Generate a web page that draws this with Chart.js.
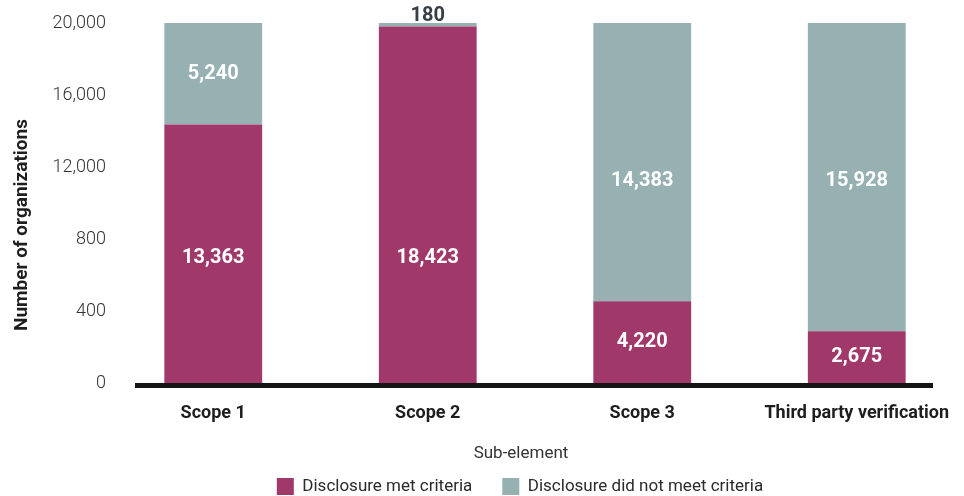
<!DOCTYPE html>
<html>
<head>
<meta charset="utf-8">
<script src="https://cdn.jsdelivr.net/npm/chart.js@4/dist/chart.umd.min.js"></script>
<style>
  html, body { margin: 0; padding: 0; background: #ffffff; }
  #wrap { width: 964px; height: 496px; position: relative; }
</style>
</head>
<body>
<div id="wrap"><canvas id="chart"></canvas></div>
<script>
const categories = ['Scope 1', 'Scope 2', 'Scope 3', 'Third party verification'];
const metCriteria = [13363, 18423, 4220, 2675];
const notMetCriteria = [5240, 180, 14383, 15928];
const yTickLabels = ['0', '400', '800', '12,000', '16,000', '20,000'];

const MET_COLOR = '#a0386a';
const NOT_MET_COLOR = '#97b0b2';
const FONT = 'Roboto';

// bars all reach the same height, the axis top is the bar total
const yMax = metCriteria[0] + notMetCriteria[0];

const fmt = (v) => v.toLocaleString('en-US');

const barLabels = {
  id: 'barLabels',
  afterDatasetsDraw(chart) {
    const { ctx } = chart;
    ctx.save();
    ctx.textAlign = 'center';
    ctx.textBaseline = 'middle';
    ctx.font = `bold 20px ${FONT}`;
    chart.data.datasets.forEach((ds, di) => {
      const bars = chart.getDatasetMeta(di).data;
      // tall segments of a series share one label row (the lowest of their centres)
      const tall = bars.filter((b) => b.base - b.y > 200);
      const row = tall.length ? Math.max(...tall.map((b) => (b.y + b.base) / 2)) + 4 : null;
      bars.forEach((bar, i) => {
        const h = bar.base - bar.y;
        if (h > 30) {
          ctx.fillStyle = '#ffffff';
          const y = h > 200 ? row : (bar.y + bar.base) / 2;
          ctx.fillText(fmt(ds.data[i]), bar.x, y);
        } else {
          ctx.fillStyle = '#363f46';
          ctx.fillText(fmt(ds.data[i]), bar.x, bar.y - 7);
        }
      });
    });
    ctx.restore();
  },
};

const baseLine = {
  id: 'baseLine',
  afterDatasetsDraw(chart) {
    const { ctx, chartArea } = chart;
    ctx.save();
    ctx.fillStyle = '#141414';
    ctx.fillRect(135, chartArea.bottom, 798, 5);
    ctx.restore();
  },
};

// axis titles sit off the plot centre in the original, so they are drawn here
const axisTitles = {
  id: 'axisTitles',
  afterLayout(chart) {
    chart.legend.left -= 15;
    chart.legend.right -= 15;
  },
  afterDraw(chart) {
    const { ctx } = chart;
    ctx.save();
    ctx.textAlign = 'center';
    ctx.font = `17px ${FONT}`;
    ctx.fillStyle = '#333333';
    ctx.textBaseline = 'alphabetic';
    ctx.fillText('Sub-element', 521, 458);

    ctx.translate(22, 225);
    ctx.rotate(-Math.PI / 2);
    ctx.textBaseline = 'middle';
    ctx.font = `bold 19px ${FONT}`;
    ctx.fillStyle = '#1e1e1e';
    ctx.fillText('Number of organizations', 0, 0);
    ctx.restore();
  },
};

new Chart(document.getElementById('chart'), {
  type: 'bar',
  data: {
    labels: categories,
    datasets: [
      {
        label: 'Disclosure met criteria',
        data: metCriteria,
        backgroundColor: MET_COLOR,
        categoryPercentage: 1,
        barPercentage: 0.456,
      },
      {
        label: 'Disclosure did not meet criteria',
        data: notMetCriteria,
        backgroundColor: NOT_MET_COLOR,
        categoryPercentage: 1,
        barPercentage: 0.456,
      },
    ],
  },
  options: {
    responsive: true,
    maintainAspectRatio: false,
    animation: false,
    layout: { padding: { top: 23, right: -2, left: 0, bottom: -9 } },
    plugins: {
      legend: {
        position: 'bottom',
        fullSize: false,
        labels: {
          boxWidth: 17,
          boxHeight: 17,
          padding: 30,
          color: '#2a2a2a',
          font: { family: FONT, size: 17 },
        },
      },
      tooltip: { enabled: false },
    },
    scales: {
      x: {
        stacked: true,
        grid: { display: false, drawTicks: false },
        border: { display: false },
        afterFit(scale) {
          scale.paddingLeft = 0;
          scale.paddingRight = 0;
          scale.height = 65;
        },
        ticks: {
          padding: 20,
          color: '#1e1e1e',
          font: { family: FONT, size: 18, weight: 'bold' },
        },
      },
      y: {
        stacked: true,
        min: 0,
        max: yMax,
        grid: { display: false, drawTicks: false },
        border: { display: false },
        afterFit(scale) { scale.width = 106; },
        afterBuildTicks(scale) {
          scale.ticks = yTickLabels.map((_, i) => ({ value: (yMax * i) / 5 }));
        },
        ticks: {
          padding: 0,
          color: '#333333',
          font: { family: FONT, size: 18, weight: 300 },
          callback: (v, i) => yTickLabels[i],
        },
      },
    },
  },
  plugins: [barLabels, baseLine, axisTitles],
});
</script>
</body>
</html>
